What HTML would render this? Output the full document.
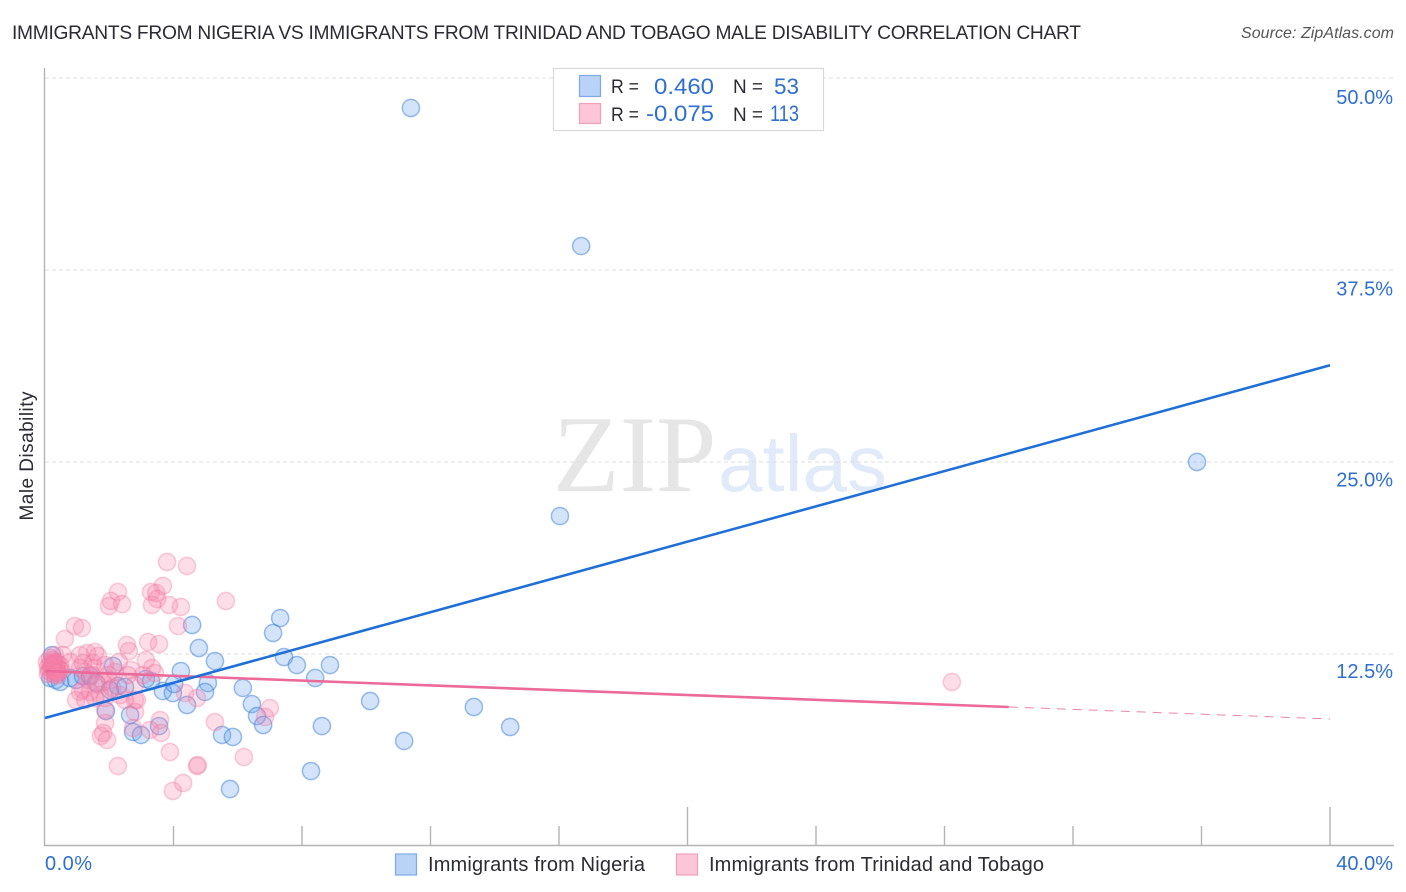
<!DOCTYPE html>
<html lang="en">
<head>
<meta charset="utf-8">
<title>Male Disability Correlation Chart</title>
<style>
html,body{margin:0;padding:0;background:#fff;width:1406px;height:892px;overflow:hidden}
svg{display:block;font-family:"Liberation Sans",Arial,sans-serif}
</style>
</head>
<body>
<svg id="chart" xmlns="http://www.w3.org/2000/svg" width="1406" height="892" viewBox="0 0 1406 892">
  <text x="12" y="39" font-size="19.2" fill="#2b2b33" textLength="1069" lengthAdjust="spacing">IMMIGRANTS FROM NIGERIA VS IMMIGRANTS FROM TRINIDAD AND TOBAGO MALE DISABILITY CORRELATION CHART</text>
  <text x="1394" y="38" font-size="16" font-style="italic" fill="#555" text-anchor="end" textLength="153" lengthAdjust="spacing">Source: ZipAtlas.com</text>
  <text transform="translate(33,456) rotate(-90)" font-size="19" fill="#2b2b33" text-anchor="middle" textLength="129" lengthAdjust="spacing">Male Disability</text>
  <g>
    <text x="553" y="491" font-family="'Liberation Serif',serif" font-size="109" fill="#e6e6e6">ZIP</text>
    <text x="718" y="491" font-size="80" fill="#e1eaf8">atlas</text>
  </g>
  <g id="grid"></g>
  <g id="axes"></g>
  <g id="blue"></g>
  <g id="pink"></g>
  <g id="trends"></g>
  <g id="labels"></g>

  <g>
    <rect x="553.5" y="68.5" width="270" height="62" fill="#fff" stroke="#d9d9d9" stroke-width="1.2"/>
    <rect x="579.5" y="75.5" width="21" height="21" fill="#b9d3f6" stroke="#7eaae6" stroke-width="1.2"/>
    <rect x="579.5" y="103.5" width="21" height="20" fill="#fcc6d8" stroke="#f0a0bc" stroke-width="1.2"/>
    <text x="611" y="93" font-size="19" fill="#2b2b33" textLength="28" lengthAdjust="spacingAndGlyphs">R =</text>
    <text x="654" y="94" font-size="22" fill="#2f6fd0" textLength="60" lengthAdjust="spacingAndGlyphs">0.460</text>
    <text x="733" y="93" font-size="19" fill="#2b2b33" textLength="30" lengthAdjust="spacingAndGlyphs">N =</text>
    <text x="774" y="94" font-size="22" fill="#2f6fd0" textLength="25" lengthAdjust="spacingAndGlyphs">53</text>
    <text x="611" y="121" font-size="19" fill="#2b2b33" textLength="28" lengthAdjust="spacingAndGlyphs">R =</text>
    <text x="646" y="121" font-size="22" fill="#2f6fd0" textLength="68" lengthAdjust="spacingAndGlyphs">-0.075</text>
    <text x="733" y="121" font-size="19" fill="#2b2b33" textLength="30" lengthAdjust="spacingAndGlyphs">N =</text>
    <text x="770" y="121" font-size="22" fill="#2f6fd0" textLength="29" lengthAdjust="spacingAndGlyphs">113</text>
  </g>

  <g>
    <rect x="395.5" y="854" width="21" height="21" fill="#b9d3f6" stroke="#7eaae6" stroke-width="1.2"/>
    <text x="428" y="871" font-size="20" fill="#2b2b33" textLength="217" lengthAdjust="spacing">Immigrants from Nigeria</text>
    <rect x="676.5" y="854" width="21" height="21" fill="#fcc6d8" stroke="#f0a0bc" stroke-width="1.2"/>
    <text x="709" y="871" font-size="20" fill="#2b2b33" textLength="335" lengthAdjust="spacing">Immigrants from Trinidad and Tobago</text>
  </g>
</svg>
<script>
const yTicks = [12.5, 25, 37.5, 50];
const yTickLabels = ['12.5%', '25.0%', '37.5%', '50.0%'];
const xTicks = [4, 8, 12, 16, 20, 24, 28, 32, 36, 40];
const xMajorTicks = [20, 40];
const xEndLabels = ['0.0%', '40.0%'];

const blueX = [11.39,16.69,35.86,16.03,7.32,7.10,4.58,4.79,5.29,7.44,7.84,8.87,8.41,4.23,5.07,4.98,3.67,3.98,4.02,4.42,6.16,6.44,6.60,6.79,8.62,10.12,13.35,14.48,11.18,5.51,5.85,5.76,8.28,2.12,3.14,3.30,2.27,2.49,1.90,2.65,2.74,2.99,3.55,0.22,0.16,0.34,0.47,0.78,0.97,1.18,1.40,1.59,2.02];
const blueY = [48.05,39.06,25.00,21.48,14.84,13.87,14.39,12.89,12.04,12.30,11.78,11.78,10.94,11.39,10.61,10.03,10.09,9.96,10.55,9.18,10.29,9.24,8.46,7.88,7.81,9.44,9.05,7.75,6.84,7.23,7.10,3.71,4.88,11.72,10.87,10.74,10.42,10.35,8.79,8.53,7.42,7.23,7.81,12.43,10.94,10.81,10.68,10.94,10.81,11.07,11.07,10.61,10.16];

const pinkX = [3.80,4.42,5.63,3.67,3.30,3.46,2.27,2.05,1.99,2.40,3.33,3.49,3.86,4.23,4.14,0.93,1.15,0.62,2.55,2.61,3.21,3.55,3.14,2.68,3.42,2.30,1.56,1.31,1.09,0.56,0.31,1.49,1.18,0.78,1.87,1.81,1.74,1.93,2.27,2.80,2.86,2.80,1.87,3.58,3.27,3.61,3.89,4.73,4.76,4.30,3.98,5.29,6.19,7.00,6.85,4.36,4.73,28.23,0.06,0.09,0.12,0.16,0.19,0.22,0.25,0.28,0.31,0.34,0.37,0.09,0.16,0.47,0.50,0.40,0.30,0.35,0.42,0.45,0.38,0.28,0.24,0.33,1.09,1.25,0.20,1.34,1.18,1.46,1.56,1.65,1.40,1.81,1.71,1.96,2.09,0.97,1.25,1.56,0.26,0.36,1.87,2.02,2.33,2.49,2.80,2.58,1.87,1.65,1.09,2.18,3.05,2.74,3.33];
const pinkY = [18.49,18.23,15.95,16.93,16.54,16.47,16.54,15.95,15.62,15.75,15.69,16.08,15.69,15.56,14.32,14.32,14.19,13.48,13.09,12.69,13.28,13.15,12.11,11.46,11.26,11.98,12.63,12.56,12.43,12.43,12.43,11.91,11.91,11.98,8.01,7.36,7.16,6.90,5.21,9.50,9.50,8.72,8.85,8.20,7.55,7.36,6.12,5.21,5.27,4.10,3.58,8.07,5.79,8.98,8.40,9.96,9.63,10.68,11.98,11.65,11.39,11.85,11.52,11.26,12.11,11.72,11.39,11.91,11.59,11.20,12.24,11.78,11.46,11.13,11.98,11.59,11.26,11.46,11.91,11.44,11.60,11.13,11.59,11.33,11.75,10.81,10.16,11.13,11.59,10.48,10.03,10.68,9.83,11.13,10.29,9.50,9.50,9.63,11.85,11.30,9.63,10.81,9.83,9.50,10.48,11.13,11.78,12.37,10.03,11.33,11.13,7.68,11.59];

const blueTrendX = [0, 40];
const blueTrendY = [8.33, 31.3];
const pinkSolidX = [0, 30];
const pinkSolidY = [11.39, 9.05];
const pinkDashX = [30, 40];
const pinkDashY = [9.05, 8.27];

const NS = 'http://www.w3.org/2000/svg';
const xScale = v => 45 + v * 32.125;
const yScale = v => 846 - v * 15.36;
const yLabelPos = v => 104 + (50 - v) * 15.3;
function mk(tag, parent, attrs) {
  const el = document.createElementNS(NS, tag);
  for (const k in attrs) el.setAttribute(k, attrs[k]);
  document.getElementById(parent).appendChild(el);
  return el;
}

yTicks.forEach((t, i) => {
  const y = yScale(t);
  const g = mk('line', 'grid', {x1: 45, x2: 1394, y1: y, y2: y, stroke: '#dcdcdc', 'stroke-width': 1, 'stroke-dasharray': '4 3'});
  
  
  const l = mk('text', 'labels', {x: 1393, y: yLabelPos(t), 'font-size': 20, fill: '#2f6fd0', 'text-anchor': 'end'});
  l.textContent = yTickLabels[i];
  
  
});

const yAxis = mk('line', 'axes', {x1: 44.5, x2: 44.5, y1: 68, y2: 846, stroke: '#b4b4b4', 'stroke-width': 1.4});


const xAxis = mk('line', 'axes', {x1: 44, x2: 1394, y1: 845.5, y2: 845.5, stroke: '#b4b4b4', 'stroke-width': 1.4});



xTicks.forEach(t => {
  const x = xScale(t);
  const top = xMajorTicks.includes(t) ? 807 : 826;
  const tick = mk('line', 'axes', {x1: x, x2: x, y1: top, y2: 845, stroke: '#b4b4b4', 'stroke-width': 1.4});
  
  
});

const xl0 = mk('text', 'labels', {x: 45, y: 870, 'font-size': 20, fill: '#2f6fd0', textLength: 47, lengthAdjust: 'spacing'});
xl0.textContent = xEndLabels[0];


const xl1 = mk('text', 'labels', {x: 1393, y: 870, 'font-size': 20, fill: '#2f6fd0', 'text-anchor': 'end'});
xl1.textContent = xEndLabels[1];



blueX.forEach((v, i) => {
  const c = mk('circle', 'blue', {cx: xScale(v), cy: yScale(blueY[i]), r: 8.6, fill: 'rgba(110,165,240,0.3)', stroke: 'rgba(60,125,215,0.5)', 'stroke-width': 1.5});
  
  
});
pinkX.forEach((v, i) => {
  const c = mk('circle', 'pink', {cx: xScale(v), cy: yScale(pinkY[i]), r: 8.6, fill: 'rgba(246,130,170,0.27)', stroke: 'rgba(238,120,160,0.36)', 'stroke-width': 1.5});
  
  
});

const pSolid = mk('line', 'trends', {x1: xScale(pinkSolidX[0]), y1: yScale(pinkSolidY[0]), x2: xScale(pinkSolidX[1]), y2: yScale(pinkSolidY[1]), stroke: '#ec6a9a', 'stroke-width': 2.6});


const pDash = mk('line', 'trends', {x1: xScale(pinkDashX[0]), y1: yScale(pinkDashY[0]), x2: xScale(pinkDashX[1]), y2: yScale(pinkDashY[1]), stroke: '#ec86aa', 'stroke-width': 1, 'stroke-dasharray': '9 7'});


const bTrend = mk('line', 'trends', {x1: xScale(blueTrendX[0]), y1: yScale(blueTrendY[0]), x2: xScale(blueTrendX[1]), y2: yScale(blueTrendY[1]), stroke: '#1f6fd8', 'stroke-width': 2.6});


</script>
</body>
</html>
